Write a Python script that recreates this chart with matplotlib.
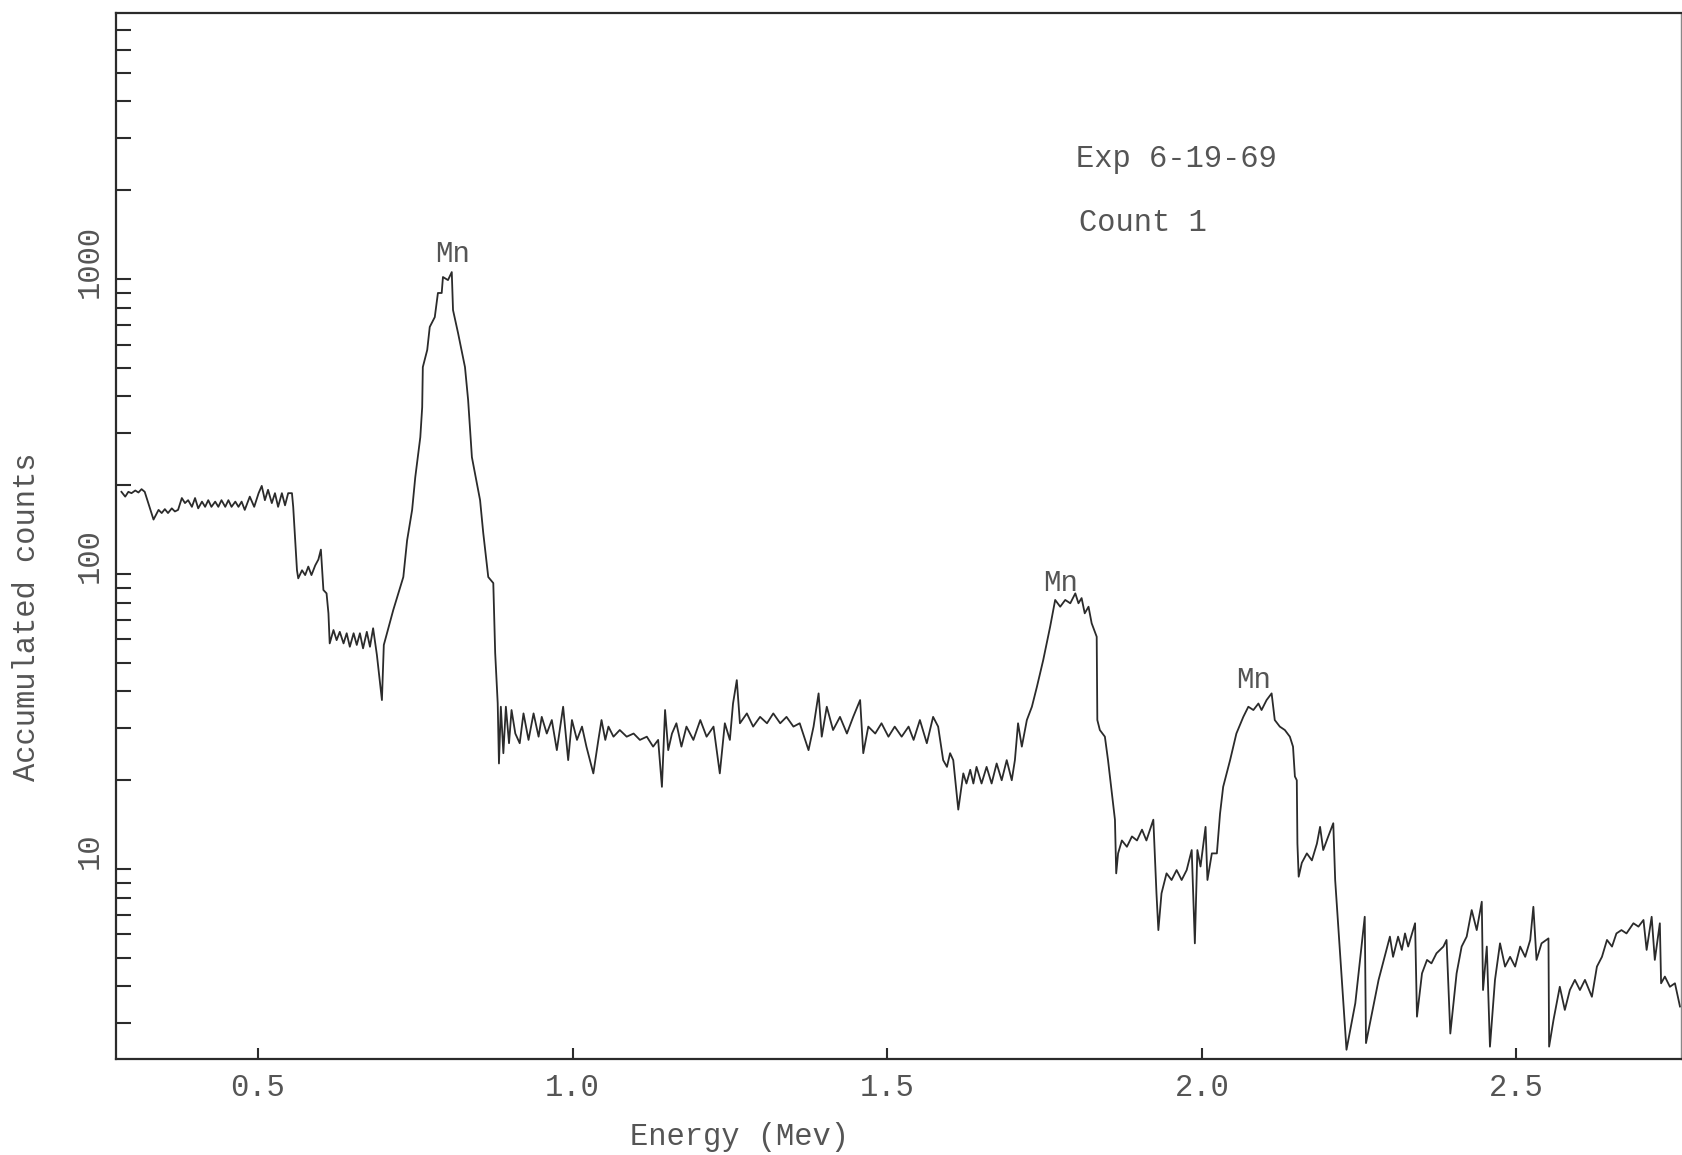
import matplotlib
matplotlib.use("Agg")
import matplotlib.pyplot as plt
import matplotlib.transforms as mtransforms
from matplotlib.ticker import LogLocator, NullFormatter, FixedLocator, FixedFormatter

# spectrum trace (energy in MeV, accumulated counts)
energy = [
    0.283, 0.289, 0.294, 0.299, 0.305, 0.310, 0.315, 0.320, 0.334, 0.342,
    0.347, 0.352, 0.357, 0.363, 0.368, 0.373, 0.379, 0.384, 0.389, 0.395,
    0.400, 0.405, 0.411, 0.416, 0.421, 0.426, 0.432, 0.437, 0.442, 0.448,
    0.453, 0.458, 0.464, 0.469, 0.474, 0.479, 0.487, 0.494, 0.501, 0.506,
    0.511, 0.516, 0.522, 0.527, 0.532, 0.538, 0.543, 0.548, 0.554, 0.556,
    0.562, 0.564, 0.570, 0.575, 0.580, 0.585, 0.591, 0.596, 0.600, 0.604,
    0.609, 0.612, 0.614, 0.620, 0.625, 0.630, 0.636, 0.641, 0.646, 0.652,
    0.657, 0.662, 0.667, 0.673, 0.678, 0.683, 0.689, 0.697, 0.700, 0.715,
    0.731, 0.737, 0.745, 0.750, 0.758, 0.761, 0.762, 0.769, 0.773, 0.781,
    0.786, 0.792, 0.794, 0.802, 0.808, 0.810, 0.818, 0.829, 0.834, 0.840,
    0.853, 0.858, 0.866, 0.874, 0.877, 0.881,
    0.883, 0.886, 0.890, 0.894, 0.899, 0.903, 0.909, 0.916, 0.922, 0.930,
    0.938, 0.946, 0.951, 0.959, 0.967, 0.975, 0.985, 0.993, 0.999, 1.007,
    1.015, 1.022, 1.033, 1.041, 1.046, 1.052, 1.057, 1.065, 1.075, 1.086,
    1.097, 1.107, 1.118, 1.128, 1.136, 1.142, 1.147, 1.152, 1.158, 1.165,
    1.173, 1.181, 1.192, 1.203, 1.213, 1.224, 1.234, 1.242, 1.250, 1.255,
    1.261, 1.266, 1.277, 1.287, 1.298, 1.309, 1.319, 1.330, 1.340, 1.351,
    1.361, 1.375, 1.383, 1.391, 1.396, 1.404, 1.414, 1.425, 1.436, 1.446,
    1.457, 1.462, 1.470, 1.481, 1.491, 1.502, 1.512, 1.523, 1.534, 1.542,
    1.552, 1.563, 1.573, 1.581, 1.589,
    1.595, 1.600, 1.605, 1.613, 1.621, 1.626, 1.632, 1.637, 1.642, 1.650,
    1.658, 1.666, 1.674, 1.682, 1.690, 1.698, 1.703, 1.708, 1.714, 1.722,
    1.730, 1.738, 1.748, 1.759, 1.767, 1.775, 1.783, 1.791, 1.799, 1.804,
    1.809, 1.814, 1.820, 1.825, 1.833, 1.834, 1.838, 1.846, 1.851, 1.857,
    1.862, 1.864, 1.867, 1.873, 1.881, 1.889, 1.897, 1.905, 1.912, 1.923,
    1.928, 1.931, 1.936, 1.944, 1.952, 1.960, 1.968, 1.976, 1.984, 1.989,
    1.993, 1.998, 2.006, 2.009, 2.016, 2.024, 2.029, 2.034, 2.045, 2.055,
    2.066, 2.074, 2.082, 2.090, 2.095, 2.103, 2.111, 2.116, 2.124, 2.132,
    2.140, 2.145, 2.148, 2.151, 2.152, 2.154, 2.159, 2.167, 2.175, 2.183,
    2.188, 2.193, 2.201, 2.209,
    2.212, 2.230, 2.244, 2.259, 2.261, 2.281, 2.299, 2.304, 2.312, 2.318,
    2.323, 2.328, 2.339, 2.342, 2.350, 2.358, 2.365, 2.373, 2.384, 2.389,
    2.395, 2.405, 2.413, 2.421, 2.429, 2.437, 2.445, 2.447, 2.453, 2.458,
    2.466, 2.474, 2.482, 2.490, 2.498, 2.506, 2.514, 2.522, 2.527, 2.532,
    2.540, 2.551, 2.552, 2.559, 2.569, 2.577, 2.585, 2.593, 2.601, 2.609,
    2.620, 2.628, 2.636, 2.644, 2.652, 2.659, 2.667, 2.675, 2.686, 2.694,
    2.702, 2.707, 2.715, 2.720, 2.728, 2.730, 2.736, 2.744, 2.752, 2.760,
]
counts = [
    190, 183, 190, 188, 192, 189, 194, 190, 153, 165,
    161, 166, 161, 167, 163, 165, 181, 174, 178, 169,
    181, 167, 176, 169, 178, 169, 176, 169, 178, 169,
    178, 169, 176, 169, 176, 165, 183, 169, 188, 199,
    178, 193, 174, 188, 169, 188, 171, 188, 188, 169,
    103, 96.7, 103, 99.2, 106, 99.2, 107, 112, 121, 88.3,
    86.0, 73.6, 58.2, 64.6, 59.7, 63.7, 58.2, 63.0, 56.7, 63.0,
    57.5, 63.0, 56.0, 63.7, 56.7, 65.5, 53.2, 37.4, 57.5, 75.5,
    97.7, 130, 165, 213, 291, 368, 503, 575, 688, 743,
    897, 897, 1016, 992, 1056, 785, 656, 503, 389, 249,
    178, 138, 97.7, 93.2, 54.0, 36.5,
    22.8, 35.5, 24.7, 35.5, 26.7, 34.6, 28.8, 26.7, 33.7, 27.4,
    33.7, 28.1, 32.8, 28.8, 32.0, 25.3, 35.5, 23.4, 32.0, 27.4,
    30.4, 26.0, 21.1, 27.4, 32.0, 27.4, 30.4, 28.1, 29.6, 28.1,
    28.8, 27.4, 28.1, 26.0, 27.4, 19.0, 34.6, 25.3, 28.8, 31.2,
    26.0, 30.4, 27.4, 32.0, 28.1, 30.4, 21.1, 31.2, 27.4, 36.4,
    43.7, 31.2, 33.7, 30.4, 32.8, 31.2, 33.7, 31.2, 32.8, 30.4,
    31.2, 25.3, 30.4, 39.4, 28.1, 35.5, 29.6, 32.8, 28.8, 32.8,
    37.4, 24.7, 30.4, 28.8, 31.2, 28.1, 30.4, 28.1, 30.4, 27.4,
    32.0, 26.7, 32.8, 30.4, 23.4,
    22.2, 24.7, 23.4, 15.9, 21.1, 19.5, 21.7, 19.5, 22.2, 19.5,
    22.2, 19.5, 22.8, 20.0, 23.4, 20.0, 23.4, 31.2, 26.0, 32.0,
    35.5, 41.5, 51.1, 66.3, 81.7, 77.5, 81.7, 79.6, 86.0, 79.6,
    82.9, 73.6, 77.5, 68.1, 61.3, 32.0, 29.6, 28.1, 23.4, 18.1,
    14.7, 9.67, 11.3, 12.5, 11.9, 12.9, 12.5, 13.6, 12.5, 14.7,
    8.27, 6.21, 8.27, 9.67, 9.18, 9.92, 9.18, 9.92, 11.6, 5.60,
    11.6, 10.2, 13.9, 9.18, 11.3, 11.3, 15.4, 19.0, 23.4, 28.8,
    32.8, 35.5, 34.6, 36.4, 34.6, 37.4, 39.4, 32.0, 30.4, 29.6,
    28.1, 26.0, 20.6, 20.0, 12.2, 9.42, 10.5, 11.3, 10.7, 12.2,
    13.9, 11.6, 12.9, 14.3,
    9.18, 2.44, 3.51, 6.89, 2.57, 4.21, 5.90, 5.04, 5.90, 5.32,
    6.05, 5.46, 6.55, 3.16, 4.43, 4.92, 4.79, 5.18, 5.46, 5.75,
    2.77, 4.43, 5.46, 5.90, 7.26, 6.21, 7.75, 3.89, 5.46, 2.50,
    4.21, 5.60, 4.67, 5.04, 4.67, 5.46, 5.04, 5.75, 7.45, 4.92,
    5.60, 5.82, 2.50, 3.08, 3.99, 3.33, 3.89, 4.21, 3.89, 4.21,
    3.69, 4.67, 5.04, 5.75, 5.46, 6.05, 6.21, 6.05, 6.55, 6.38,
    6.72, 5.32, 6.89, 4.92, 6.55, 4.10, 4.32, 3.99, 4.10, 3.42,
]

peak_labels = ["Mn", "Mn", "Mn"]
peak_energy = [0.810, 1.775, 2.082]
peak_counts = [1216, 93.2, 43.6]

x_ticks = [0.5, 1.0, 1.5, 2.0, 2.5]
x_tick_labels = ["0.5", "1.0", "1.5", "2.0", "2.5"]
y_ticks = [10, 100, 1000]
y_tick_labels = ["10", "100", "1000"]

plt.rcParams['font.family'] = ['Liberation Mono', 'DejaVu Sans Mono']

ink = '#2b2b2b'
type_grey = '#555555'

fig = plt.figure(figsize=(16.83, 11.55), dpi=100)
ax = fig.add_axes([0.0689, 0.0831, 0.9299, 0.9056])

ax.plot(energy, counts, color=ink, lw=1.3)

ax.set_yscale('log')
ax.set_xlim(0.2743, 2.7616)
ax.set_ylim(2.27, 7975)

ax.xaxis.set_major_locator(FixedLocator(x_ticks))
ax.xaxis.set_major_formatter(FixedFormatter(x_tick_labels))
ax.yaxis.set_major_locator(FixedLocator(y_ticks))
ax.yaxis.set_major_formatter(FixedFormatter(y_tick_labels))
ax.yaxis.set_minor_locator(LogLocator(base=10, subs=range(2, 10)))
ax.yaxis.set_minor_formatter(NullFormatter())

ax.tick_params(axis='x', direction='in', length=8, width=1.5, color=ink,
               labelsize=22, labelcolor=type_grey, pad=10)
ax.tick_params(axis='y', which='both', direction='in', length=11, width=1.5,
               color=ink, labelsize=22, labelcolor=type_grey, pad=8)

# typed labels on the y axis sit a little above the decade lines
shift = mtransforms.ScaledTranslation(0, 0.18, fig.dpi_scale_trans)
for lab in ax.get_yticklabels():
    lab.set_rotation(90)
    lab.set_va('center')
    lab.set_transform(lab.get_transform() + shift)

for side in ['left', 'bottom', 'top']:
    ax.spines[side].set_color(ink)
    ax.spines[side].set_linewidth(1.6)
ax.spines['right'].set_color('#888888')
ax.spines['right'].set_linewidth(1.0)

ax.set_xlabel('Energy (Mev)', fontsize=22, color=type_grey)
ax.xaxis.set_label_coords(0.3987, -0.060)
ax.set_ylabel('Accumulated counts', fontsize=22, color=type_grey)
ax.yaxis.set_label_coords(-0.047, 0.4226)

for lab, e, c in zip(peak_labels, peak_energy, peak_counts):
    ax.text(e, c, lab, fontsize=21, color=type_grey, ha='center', va='center')

ax.text(0.6134, 0.8604, 'Exp 6-19-69', transform=ax.transAxes,
        fontsize=22, color=type_grey, ha='left', va='center')
ax.text(0.6153, 0.7992, 'Count 1', transform=ax.transAxes,
        fontsize=22, color=type_grey, ha='left', va='center')

fig.savefig('out.png', dpi=100)
